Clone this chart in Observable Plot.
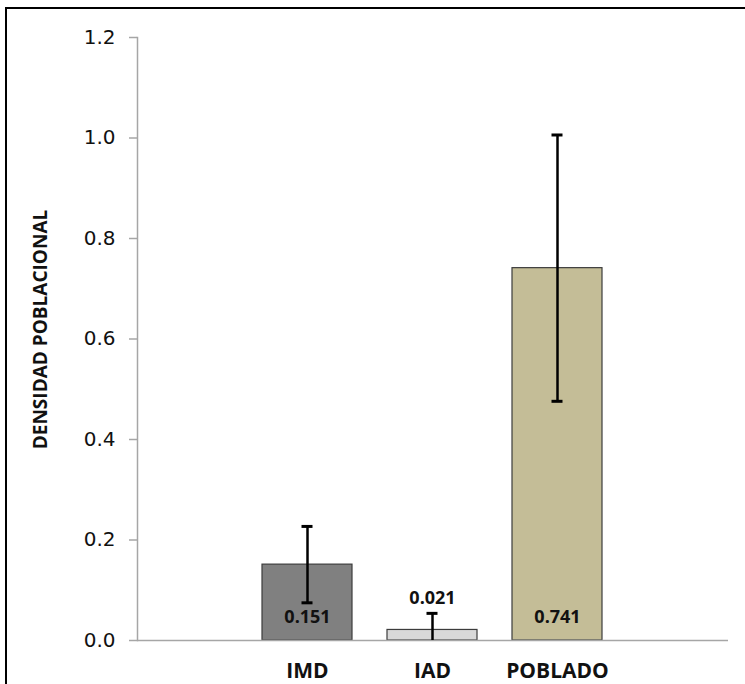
<!DOCTYPE html>
<html>
<head>
<meta charset="utf-8">
<script src="https://cdn.jsdelivr.net/npm/d3@7"></script>
<script src="https://cdn.jsdelivr.net/npm/@observablehq/plot@0.6"></script>
<style>
  html, body { margin: 0; padding: 0; background: #fff; overflow: hidden; }
  #wrap { position: relative; width: 745px; height: 684px; overflow: hidden; }
  #border { position: absolute; left: 5px; top: 7px; width: 760px; height: 700px;
            border-left: 2px solid #000; border-top: 2px solid #000; box-sizing: border-box; pointer-events: none; }
</style>
</head>
<body>
<div id="wrap"><div id="chart"></div><div id="border"></div></div>
<script>
// Population density by site, with error bars
const sites = ["IMD", "IAD", "POBLADO"];
const density = [0.151, 0.021, 0.741];
const errors = [0.076, 0.033, 0.265];
const fills = ["#808080", "#d9d9d9", "#c4bd97"];
const yTicks = [0, 0.2, 0.4, 0.6, 0.8, 1.0, 1.2];
const yTitle = "DENSIDAD POBLACIONAL";

const rows = sites.map((site, i) => ({
  site,
  value: density[i],
  lo: Math.max(0, density[i] - errors[i]),
  hi: density[i] + errors[i],
  fill: fills[i]
}));

const labelFont = "Open Sans";
const tickFont = "DejaVu Sans";

const chart = Plot.plot({
  width: 745,
  height: 684,
  marginLeft: 137,
  marginRight: 17,
  marginTop: 37,
  marginBottom: 44,
  style: { background: "transparent", color: "#111" },
  x: { domain: sites, range: [226, 639], padding: 0.278, label: null },
  y: { domain: [0, 1.2], label: null },
  marks: [
    Plot.barY(rows, { x: "site", y: "value", fill: "fill", stroke: "#3c3c3c", strokeWidth: 1.2 }),
    Plot.ruleY([0], { stroke: "#a6a6a6", strokeWidth: 1.5 }),
    Plot.frame({ anchor: "left", stroke: "#a6a6a6", strokeWidth: 1.5 }),
    Plot.axisY({ ticks: yTicks, tickSize: 8, text: null, stroke: "#a6a6a6", strokeWidth: 1.5 }),
    // y tick labels
    Plot.text(yTicks, { y: d => d, frameAnchor: "left", textAnchor: "end", dx: -22,
      text: d3.format(".1f"), fill: "#111", fontFamily: tickFont, fontSize: 20 }),
    Plot.axisX({ tickSize: 0, tickPadding: 23, fill: "#111", fontWeight: "bold",
                 fontFamily: labelFont, fontSize: 21 }),
    // error bars
    Plot.ruleX(rows, { x: "site", y1: "lo", y2: "hi", stroke: "#000", strokeWidth: 2.5 }),
    Plot.tickY(rows, { x: "site", y: "hi", stroke: "#000", strokeWidth: 3, insetLeft: 39.5, insetRight: 39.5 }),
    Plot.tickY(rows.filter(d => d.value - (d.hi - d.value) > 0), { x: "site", y: "lo", stroke: "#000", strokeWidth: 3, insetLeft: 39.5, insetRight: 39.5 }),
    // value labels: inside the base of tall bars, above the error bar of short ones
    Plot.text(rows.filter(d => d.value > 0.1), { x: "site", y: 0, dy: -23.5, text: d => d.value.toFixed(3),
      fill: "#111", fontWeight: "bold", fontFamily: labelFont, fontSize: 18 }),
    Plot.text(rows.filter(d => d.value <= 0.1), { x: "site", y: "hi", dy: -15.5, text: d => d.value.toFixed(3),
      fill: "#111", fontWeight: "bold", fontFamily: labelFont, fontSize: 18 }),
    // y-axis title
    Plot.text([yTitle], { frameAnchor: "left", textAnchor: "middle", dx: -97, dy: -9.5, rotate: -90, text: d => d,
      fill: "#111", fontWeight: "bold", fontFamily: labelFont, fontSize: 19 })
  ]
});

document.getElementById("chart").appendChild(chart);
</script>
</body>
</html>
